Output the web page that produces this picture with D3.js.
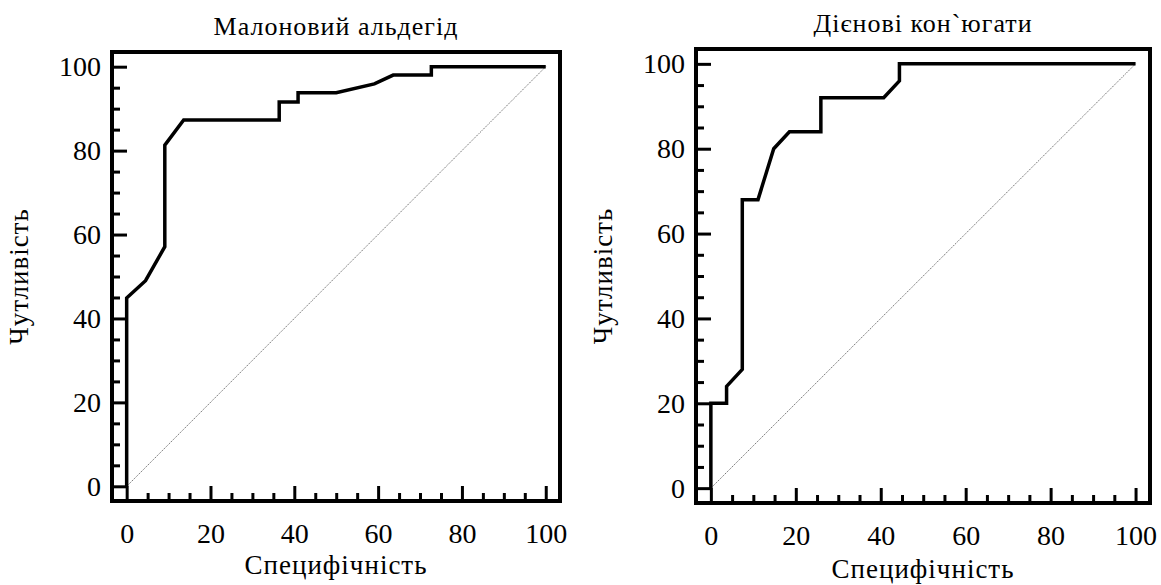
<!DOCTYPE html>
<html>
<head>
<meta charset="utf-8">
<script src="https://cdn.jsdelivr.net/npm/d3@7.9.0/dist/d3.min.js"></script>
<style>
  body { margin: 0; background: #fff; }
  svg text { font-family: "Liberation Serif", "Tinos", "DejaVu Serif", serif !important; fill: #000; }
</style>
</head>
<body>
<svg id="chart" width="1161" height="585"></svg>
<script>
// ROC curves (x = 100 - specificity, y = sensitivity)
const malonX = [0, 0, 4.5, 9.1, 9.1, 13.6, 36.4, 36.4, 40.9, 40.9, 50.0, 59.1, 63.6, 72.7, 72.7, 100];
const malonY = [0, 44.9, 49.0, 57.1, 81.3, 87.3, 87.3, 91.6, 91.6, 93.8, 93.8, 95.9, 98.0, 98.0, 100, 100];

const dieneX = [0, 0, 3.7, 3.7, 7.4, 7.4, 11.1, 14.8, 18.5, 25.9, 25.9, 40.7, 44.4, 44.4, 100];
const dieneY = [0, 20, 20, 24, 28, 68, 68, 80, 84, 84, 92, 92, 96, 100, 100];

const majorTicks = [0, 20, 40, 60, 80, 100];
const minorTicks = d3.range(0, 101, 5).filter(v => v % 20 !== 0);

const panels = [
  { title: 'Малоновий альдегід', xs: malonX, ys: malonY,
    left: 112, right: 560, top: 52, bottom: 501, xTitleY: 574 },
  { title: 'Дієнові кон`югати', xs: dieneX, ys: dieneY,
    left: 696, right: 1150, top: 49, bottom: 503, xTitleY: 578 }
];

const svg = d3.select('#chart');

panels.forEach(p => {
  const x = d3.scaleLinear().domain([-3.5, 103.4]).range([p.left, p.right]);
  const y = d3.scaleLinear().domain([-3.5, 103.5]).range([p.bottom, p.top]);
  const g = svg.append('g');

  // diagonal reference line
  g.append('line')
    .attr('x1', x(0)).attr('y1', y(0))
    .attr('x2', x(100)).attr('y2', y(100))
    .attr('stroke', '#555')
    .attr('stroke-width', 0.8)
    .attr('stroke-dasharray', '1.5,1');

  // ROC curve
  const pts = p.xs.map((v, i) => [v, p.ys[i]]);
  g.append('path')
    .datum(pts)
    .attr('fill', 'none')
    .attr('stroke', '#000')
    .attr('stroke-width', 3.5)
    .attr('stroke-linejoin', 'miter')
    .attr('d', d3.line().x(d => x(d[0])).y(d => y(d[1])));

  // axes: ticks point inward from the frame
  const styleAxis = sel => {
    sel.select('.domain').remove();
    sel.selectAll('line').attr('stroke', '#000').attr('stroke-width', 3);
    sel.selectAll('text').attr('font-size', 28);
  };

  g.append('g')
    .attr('transform', `translate(0,${p.bottom})`)
    .call(d3.axisBottom(x).tickValues(majorTicks).tickSizeInner(-15).tickSizeOuter(0).tickPadding(22))
    .call(styleAxis)
    .selectAll('text').attr('dy', '0.71em');

  g.append('g')
    .attr('transform', `translate(0,${p.bottom})`)
    .call(d3.axisBottom(x).tickValues(minorTicks).tickSizeInner(-8).tickSizeOuter(0).tickFormat(''))
    .call(styleAxis);

  g.append('g')
    .attr('transform', `translate(${p.left},0)`)
    .call(d3.axisLeft(y).tickValues(majorTicks).tickSizeInner(-15).tickSizeOuter(0).tickPadding(11))
    .call(styleAxis);

  g.append('g')
    .attr('transform', `translate(${p.left},0)`)
    .call(d3.axisLeft(y).tickValues(minorTicks).tickSizeInner(-8).tickSizeOuter(0).tickFormat(''))
    .call(styleAxis);

  // frame
  g.append('rect')
    .attr('x', p.left).attr('y', p.top)
    .attr('width', p.right - p.left).attr('height', p.bottom - p.top)
    .attr('fill', 'none')
    .attr('stroke', '#000')
    .attr('stroke-width', 4);

  const cx = (p.left + p.right) / 2;

  g.append('text')
    .attr('x', cx).attr('y', p.top - 17)
    .attr('text-anchor', 'middle')
    .attr('font-size', 26)
    .attr('letter-spacing', 1)
    .text(p.title);

  g.append('text')
    .attr('x', cx).attr('y', p.xTitleY)
    .attr('text-anchor', 'middle')
    .attr('font-size', 27)
    .attr('letter-spacing', 1)
    .text('Специфічність');

  g.append('text')
    .attr('transform', `translate(${p.left - 84},${(p.top + p.bottom) / 2}) rotate(-90)`)
    .attr('text-anchor', 'middle')
    .attr('font-size', 27)
    .attr('letter-spacing', 1)
    .text('Чутливість');
});
</script>
</body>
</html>
